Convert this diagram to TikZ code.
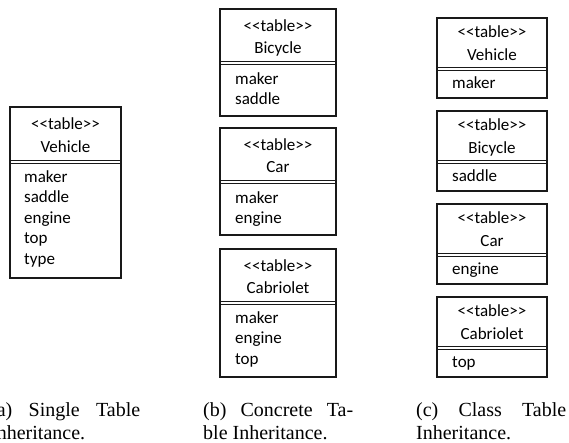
\documentclass[tikz,border=0pt]{standalone}
\usepackage{fontspec}
\setmainfont{Liberation Serif}
\newfontfamily\boxfont[Ligatures=TeXOff]{Carlito}
\tikzset{
  tbox/.style={draw=black!90, line width=1.1pt},
  sepline/.style={draw=black!90, line width=0.9pt},
  hdr/.style={font=\boxfont\fontsize{17}{20}\selectfont, anchor=base, inner sep=0pt},
  attr/.style={font=\boxfont\fontsize{17}{20}\selectfont, anchor=base west, inner sep=0pt},
  captext/.style={font=\fontsize{20}{23.5}\selectfont, anchor=base west, inner sep=0pt}
}
\begin{document}
\begin{tikzpicture}[x=1pt,y=-1pt]
\useasboundingbox (0,0) rectangle (569,442);
\clip (0,0) rectangle (569,442);
% ---------- (a) single table
\draw[tbox] (10,107) rectangle (121,278);
\draw[sepline] (10,160) -- (121,160);
\draw[sepline] (10,163) -- (121,163);
\node[hdr] (aS) at (65.5,129) {<<table>>};
\node[hdr] (aN) at (65.5,152) {Vehicle};
\node[attr] (a1) at (24,182) {maker};
\node[attr] (a2) at (24,202.5) {saddle};
\node[attr] (a3) at (24,223) {engine};
\node[attr] (a4) at (24,243.5) {top};
\node[attr] (a5) at (24,264) {type};
% ---------- (b) concrete table
\draw[tbox] (220,9) rectangle (336,116);
\draw[sepline] (220,61) -- (336,61);
\draw[sepline] (220,64) -- (336,64);
\node[hdr] (bbS) at (278,31) {<<table>>};
\node[hdr] (bbN) at (278,53.5) {Bicycle};
\node[attr] (bb1) at (235,84) {maker};
\node[attr] (bb2) at (235,104.5) {saddle};
\draw[tbox] (220,128) rectangle (336,235);
\draw[sepline] (220,180) -- (336,180);
\draw[sepline] (220,183) -- (336,183);
\node[hdr] (bcS) at (278,150) {<<table>>};
\node[hdr] (bcN) at (278,172.5) {Car};
\node[attr] (bc1) at (235,203) {maker};
\node[attr] (bc2) at (235,223.5) {engine};
\draw[tbox] (220,249) rectangle (336,377);
\draw[sepline] (220,301) -- (336,301);
\draw[sepline] (220,304) -- (336,304);
\node[hdr] (brS) at (278,271) {<<table>>};
\node[hdr] (brN) at (278,293.5) {Cabriolet};
\node[attr] (br1) at (235,323) {maker};
\node[attr] (br2) at (235,343.5) {engine};
\node[attr] (br3) at (235,364) {top};
% ---------- (c) class table
\draw[tbox] (437,18) rectangle (547,98);
\draw[sepline] (437,67) -- (547,67);
\draw[sepline] (437,70) -- (547,70);
\node[hdr] (cvS) at (492,37) {<<table>>};
\node[hdr] (cvN) at (492,60) {Vehicle};
\node[attr] (cv1) at (452,88) {maker};
\draw[tbox] (437,111) rectangle (547,191);
\draw[sepline] (437,160) -- (547,160);
\draw[sepline] (437,163) -- (547,163);
\node[hdr] (cbS) at (492,130) {<<table>>};
\node[hdr] (cbN) at (492,153) {Bicycle};
\node[attr] (cb1) at (452,181) {saddle};
\draw[tbox] (437,204) rectangle (547,284);
\draw[sepline] (437,253) -- (547,253);
\draw[sepline] (437,256) -- (547,256);
\node[hdr] (ccS) at (492,223) {<<table>>};
\node[hdr] (ccN) at (492,246) {Car};
\node[attr] (cc1) at (452,274) {engine};
\draw[tbox] (437,297) rectangle (547,377);
\draw[sepline] (437,346) -- (547,346);
\draw[sepline] (437,349) -- (547,349);
\node[hdr] (crS) at (492,316) {<<table>>};
\node[hdr] (crN) at (492,339) {Cabriolet};
\node[attr] (cr1) at (452,367) {top};
% ---------- captions
\node[captext] (capa1) at (-10,416) {\makebox[150pt][s]{(a) Single Table}};
\node[captext] (capa2) at (-10,439) {Inheritance.};
\node[captext] (capb1) at (203,416) {\makebox[150pt][s]{(b) Concrete Ta-}};
\node[captext] (capb2) at (203,439) {ble Inheritance.};
\node[captext] (capc1) at (416,416) {\makebox[150pt][s]{(c) Class Table}};
\node[captext] (capc2) at (416,439) {Inheritance.};
\end{tikzpicture}
\end{document}
